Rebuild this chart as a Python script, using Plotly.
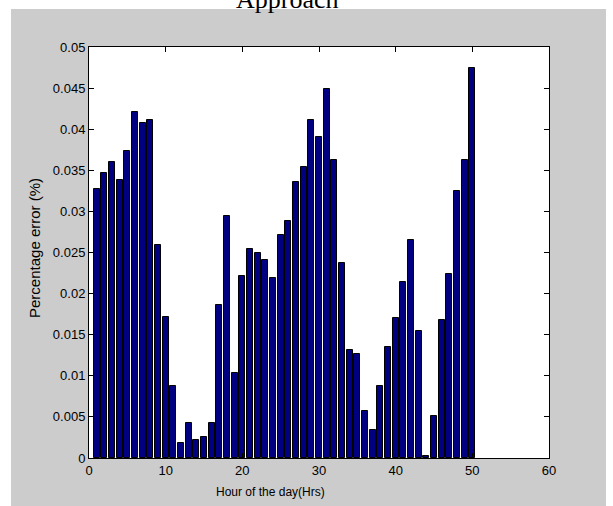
import plotly.graph_objects as go

hours = list(range(1, 51))
pct_error = [
    0.0327, 0.0347, 0.0360, 0.0338, 0.0374, 0.0421, 0.0408, 0.0411, 0.0259, 0.0171,
    0.0087, 0.0018, 0.0042, 0.0022, 0.0026, 0.0043, 0.0186, 0.0295, 0.0103, 0.0221,
    0.0254, 0.0250, 0.0241, 0.0219, 0.0271, 0.0288, 0.0336, 0.0354, 0.0411, 0.0391,
    0.0449, 0.0363, 0.0237, 0.0132, 0.0126, 0.0057, 0.0034, 0.0087, 0.0135, 0.0170,
    0.0214, 0.0265, 0.0154, 0.0003, 0.0051, 0.0168, 0.0224, 0.0325, 0.0362, 0.0475,
]
x_ticks = [0, 10, 20, 30, 40, 50, 60]
y_ticks = [0, 0.005, 0.01, 0.015, 0.02, 0.025, 0.03, 0.035, 0.04, 0.045, 0.05]
y_ticktext = ["0", "0.005", "0.01", "0.015", "0.02", "0.025", "0.03", "0.035", "0.04", "0.045", "0.05"]

title_text = "Approach"
x_title = "Hour of the day(Hrs)"
y_title = "Percentage error (%)"

fig = go.Figure()
fig.add_trace(go.Bar(
    x=hours, y=pct_error, width=0.8,
    marker=dict(color="#000080", line=dict(color="black", width=1)),
))

W, H = 613, 506
L, R, T, B = 89, 64, 47, 48
pw, ph = W - L - R, H - T - B

def px(x):
    return (x - L) / pw

def py(y):
    return (H - B - y) / ph

axis_font = dict(family="Liberation Sans, Arial, sans-serif", size=13, color="black")

fig.update_layout(
    width=W, height=H,
    margin=dict(l=L, r=R, t=T, b=B, pad=0),
    paper_bgcolor="white", plot_bgcolor="white",
    showlegend=False,
    bargap=0,
    xaxis=dict(range=[0, 60], tickvals=x_ticks, ticks="inside", ticklen=5,
               tickcolor="black", showline=True, linecolor="black", linewidth=1,
               mirror="allticks", showgrid=False, zeroline=False, tickfont=axis_font),
    yaxis=dict(range=[0, 0.05], tickvals=y_ticks, ticktext=y_ticktext, ticks="inside",
               ticklen=5, tickcolor="black", showline=True, linecolor="black", linewidth=1,
               mirror="allticks", showgrid=False, zeroline=False, tickfont=axis_font),
    shapes=[
        dict(type="rect", xref="paper", yref="paper", layer="below",
             x0=px(11), x1=px(606), y0=py(506), y1=py(9),
             fillcolor="#CCCCCC", line=dict(width=0)),
        dict(type="rect", xref="paper", yref="paper", layer="below",
             x0=0, x1=1, y0=0, y1=1, fillcolor="white", line=dict(width=0)),
    ],
    annotations=[
        dict(text=title_text, xref="paper", yref="paper", x=px(287), y=py(16),
             xanchor="center", yanchor="bottom", showarrow=False,
             font=dict(family="Liberation Serif, Times New Roman, serif", size=26, color="black")),
        dict(text=x_title, xref="paper", yref="paper", x=px(270), y=py(492),
             xanchor="center", yanchor="middle", showarrow=False,
             font=dict(family="Liberation Sans, Arial, sans-serif", size=12, color="black")),
        dict(text=y_title, xref="paper", yref="paper", x=px(35), y=py(248),
             xanchor="center", yanchor="middle", showarrow=False, textangle=-90,
             font=dict(family="Liberation Sans, Arial, sans-serif", size=15, color="black")),
    ],
)

fig.write_html(
    "out.html",
    config={"displayModeBar": False},
    post_script="document.body.style.margin='0px';document.body.style.padding='0px';",
)
